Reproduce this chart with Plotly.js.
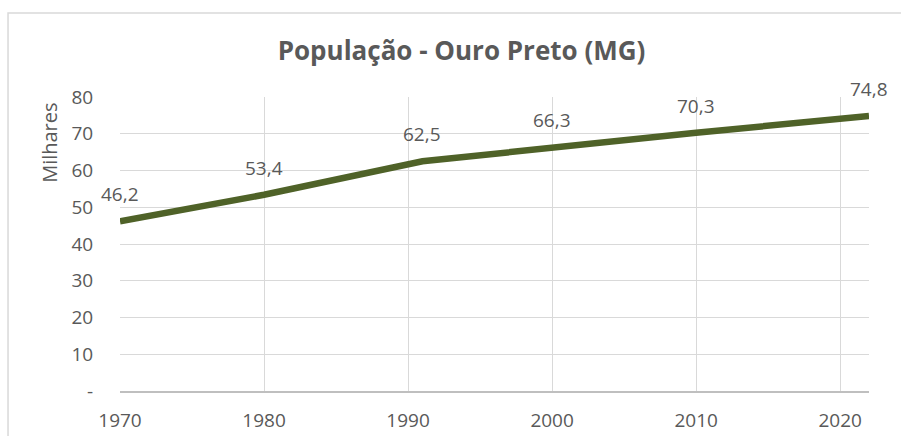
<!DOCTYPE html>
<html>
<head>
<meta charset="utf-8">
<script src="https://cdn.plot.ly/plotly-3.0.1.min.js"></script>
<style>html,body{margin:0;padding:0;background:#fff;}#chart{width:901px;height:436px;}</style>
</head>
<body>
<div id="chart"></div>
<script>
const years = [1970, 1980, 1991, 2000, 2010, 2022];
const population = [46.2, 53.4, 62.5, 66.3, 70.3, 74.8];
const xTicks = [1970, 1980, 1990, 2000, 2010, 2020];
const yTickVals = [0, 10, 20, 30, 40, 50, 60, 70, 80];
const yTickText = ['-', '10', '20', '30', '40', '50', '60', '70', '80'];

const font = "Open Sans, Noto Sans, sans-serif";
const grey = '#595959';

const trace = {
  x: years, y: population, type: 'scatter', mode: 'lines',
  line: {color: '#4f6228', width: 6.5},
  hoverinfo: 'skip'
};

const annotations = years.map((yr, i) => ({
  x: yr, y: population[i], xref: 'x', yref: 'y',
  text: population[i].toFixed(1).replace('.', ','),
  showarrow: false, yshift: 27,
  font: {family: font, size: 19, color: grey}
}));
annotations.push({
  xref: 'paper', yref: 'paper', x: -0.095, y: 0.8435,
  text: 'Milhares', textangle: -90, showarrow: false,
  xanchor: 'center', yanchor: 'middle',
  font: {family: font, size: 20, color: grey}
});

const layout = {
  width: 901, height: 436,
  margin: {l: 120, r: 32, t: 97, b: 45},
  paper_bgcolor: '#fff', plot_bgcolor: '#fff',
  separators: ',.',
  showlegend: false,
  title: {text: '<b>População - Ouro Preto (MG)</b>', x: 0.456, xanchor: 'center', xref: 'paper', y: 0.883, yref: 'container', yanchor: 'middle',
          font: {family: font, size: 26, color: grey}},
  xaxis: {
    range: [1970, 2022], tickvals: xTicks, ticktext: xTicks.map(String),
    showgrid: true, gridcolor: '#d9d9d9', gridwidth: 1,
    showline: true, linecolor: '#bfbfbf', linewidth: 1.5,
    zeroline: false, ticks: 'outside', ticklen: 12, tickcolor: 'rgba(0,0,0,0)',
    tickfont: {family: font, size: 19, color: grey}, fixedrange: true
  },
  yaxis: {
    range: [0, 80], tickvals: yTickVals, ticktext: yTickText,
    showgrid: true, gridcolor: '#d9d9d9', gridwidth: 1,
    showline: false, zeroline: false,
    ticks: 'outside', ticklen: 22, tickcolor: 'rgba(0,0,0,0)',
    tickfont: {family: font, size: 19, color: grey},
    fixedrange: true
  },
  annotations: annotations,
  shapes: [{
    type: 'rect', xref: 'paper', yref: 'paper',
    x0: -0.1495, x1: 1.1, y0: -0.3, y1: 1.2857,
    line: {color: '#d9d9d9', width: 1.5}, fillcolor: 'rgba(0,0,0,0)', layer: 'below'
  }]
};

Plotly.newPlot('chart', [trace], layout, {displayModeBar: false, staticPlot: true});
</script>
</body>
</html>
